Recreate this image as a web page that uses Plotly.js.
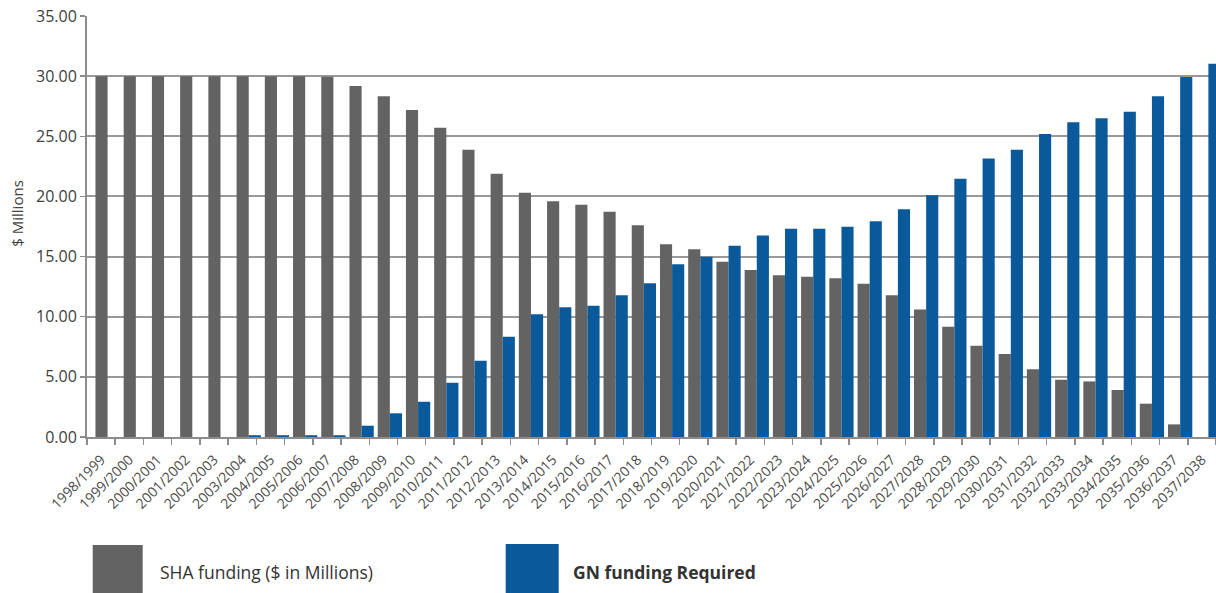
<!DOCTYPE html>
<html>
<head>
<meta charset="utf-8">
<script src="https://cdn.plot.ly/plotly-3.0.1.min.js"></script>
<style>html,body{margin:0;padding:0;background:#fff;}#chart{width:1216px;height:593px;}</style>
</head>
<body>
<div id="chart"></div>
<script>
const years = ["1998/1999","1999/2000","2000/2001","2001/2002","2002/2003","2003/2004","2004/2005","2005/2006","2006/2007","2007/2008","2008/2009","2009/2010","2010/2011","2011/2012","2012/2013","2013/2014","2014/2015","2015/2016","2016/2017","2017/2018","2018/2019","2019/2020","2020/2021","2021/2022","2022/2023","2023/2024","2024/2025","2025/2026","2026/2027","2027/2028","2028/2029","2029/2030","2030/2031","2031/2032","2032/2033","2033/2034","2034/2035","2035/2036","2036/2037","2037/2038"];
const shaFunding = [30.0,30.0,30.0,30.0,30.0,30.0,30.0,30.0,29.95,29.18,28.32,27.18,25.71,23.88,21.89,20.31,19.59,19.31,18.73,17.60,16.02,15.60,14.57,13.88,13.44,13.33,13.19,12.75,11.78,10.61,9.17,7.59,6.90,5.63,4.76,4.62,3.91,2.77,1.05,0];
const gnFunding = [0,0,0,0,0,0.15,0.15,0.15,0.15,0.94,1.97,2.93,4.51,6.34,8.34,10.20,10.78,10.92,11.78,12.78,14.36,14.99,15.90,16.76,17.32,17.32,17.48,17.93,18.93,20.09,21.47,23.16,23.88,25.19,26.16,26.49,27.04,28.32,29.93,31.03];
const seriesNames = ["SHA funding ($ in Millions)", "GN funding Required"];
const yTitle = "$ Millions";

const GRAY = "#636363", BLUE = "#0a5a9b";
const FONT = "Open Sans, sans-serif";

const traces = [
  {type:"bar", x: years, y: shaFunding, name: seriesNames[0], marker:{color:GRAY}, offset:-0.2, width:0.43, hoverinfo:"x+y"},
  {type:"bar", x: years, y: gnFunding, name: seriesNames[1], marker:{color:BLUE}, offset:0.23, width:0.43, hoverinfo:"x+y"}
];

const L = 87, PW = 1129, T = 16, PH = 421;
const px = v => (v - L) / PW;
const py = v => (T + PH - v) / PH;

const layout = {
  width:1216, height:593,
  margin:{l:L, r:1216-L-PW, t:T, b:593-T-PH},
  paper_bgcolor:"#fff", plot_bgcolor:"#fff",
  showlegend:false,
  barmode:"overlay",
  font:{family:FONT, color:"#404040"},
  xaxis:{
    type:"category", range:[-0.5, 39.5],
    showline:true, linecolor:"#8c8c8c", linewidth:2,
    ticks:"outside", tickson:"boundaries", ticklen:6, tickcolor:"#8c8c8c", tickwidth:1.5,
    ticklabelstandoff:7,
    tickangle:-45, tickfont:{size:14, color:"#4a4a4a", family:FONT},
    showgrid:false, zeroline:false
  },
  yaxis:{
    range:[0,35], dtick:5, tick0:0, tickformat:".2f",
    showline:true, linecolor:"#8c8c8c", linewidth:2,
    ticks:"outside", ticklen:5, tickcolor:"#8c8c8c", tickwidth:1.5,
    showgrid:true, gridcolor:"#999999", gridwidth:2,
    zeroline:false,
    tickfont:{size:16, color:"#404040", family:FONT}
  },
  shapes:[
    {type:"rect", xref:"paper", yref:"paper", x0:px(92.7), x1:px(142.7), y0:py(620), y1:py(545), fillcolor:GRAY, line:{width:0}},
    {type:"rect", xref:"paper", yref:"paper", x0:px(505.7), x1:px(558.7), y0:py(620), y1:py(544), fillcolor:BLUE, line:{width:0}}
  ],
  annotations:[
    {xref:"paper", yref:"paper", x:px(16.7), y:py(214), text:yTitle, textangle:-90, showarrow:false, xanchor:"center", yanchor:"middle", font:{size:15, color:"#404040", family:FONT}},
    {xref:"paper", yref:"paper", x:px(158), y:py(572), text:seriesNames[0], showarrow:false, xanchor:"left", yanchor:"middle", font:{size:17.5, color:"#333", family:FONT}},
    {xref:"paper", yref:"paper", x:px(571), y:py(572), text:"<b>"+seriesNames[1]+"</b>", showarrow:false, xanchor:"left", yanchor:"middle", font:{size:17.5, color:"#333", family:FONT}}
  ]
};

Plotly.newPlot("chart", traces, layout, {displayModeBar:false, staticPlot:true});
</script>
</body>
</html>
